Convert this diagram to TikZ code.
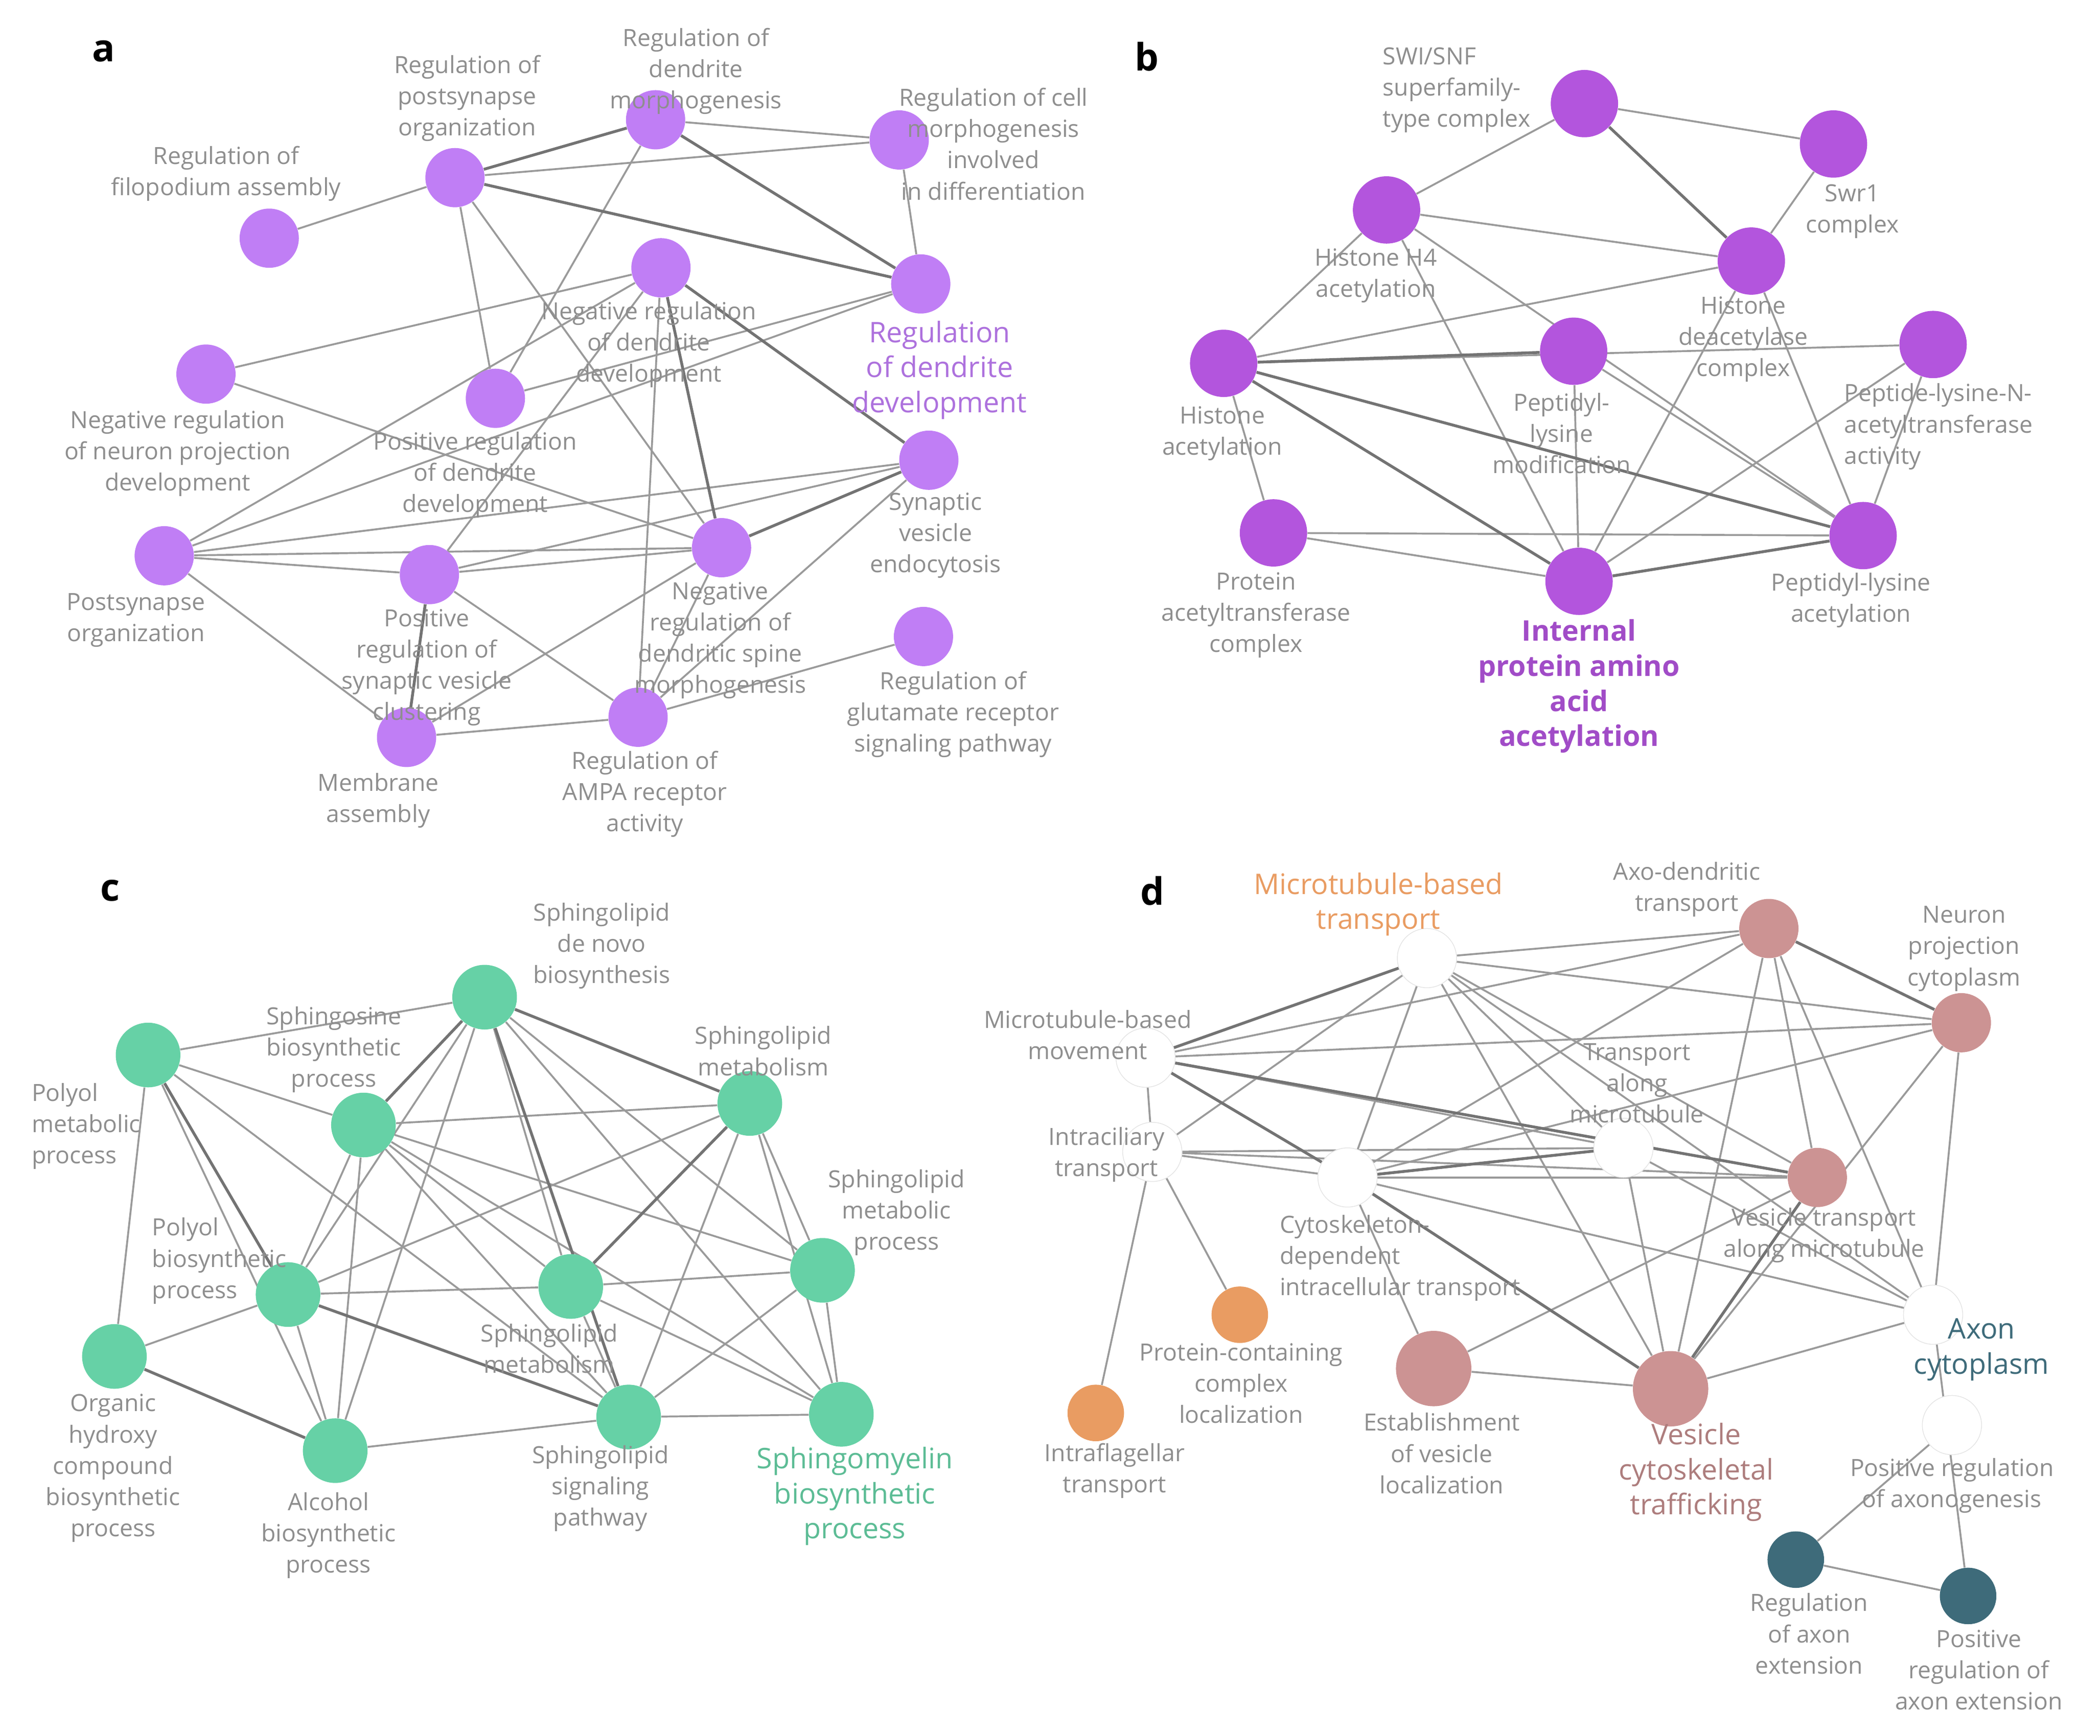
\documentclass[tikz,border=0pt]{standalone}
\usepackage{fontspec}
\setmainfont{Open Sans}
\usetikzlibrary{backgrounds}
\definecolor{ca}{HTML}{C07EF5}
\definecolor{cb}{HTML}{B355DD}
\definecolor{cc}{HTML}{66D1A6}
\definecolor{cd}{HTML}{CC9393}
\definecolor{co}{HTML}{E99C62}
\definecolor{ct}{HTML}{3E6B7A}
\definecolor{lg}{HTML}{8E8E8E}
\definecolor{eg}{HTML}{9A9A9A}
\tikzset{
 nd/.style={circle,inner sep=0pt,minimum size=1.1cm},
 na/.style={nd,fill=ca},
 nb/.style={nd,fill=cb,minimum size=1.25cm},
 nc/.style={nd,fill=cc,minimum size=1.2cm},
 npk/.style={nd,fill=cd},
 nw/.style={nd,fill=white,draw=black!10,line width=0.4pt},
 nor/.style={nd,fill=co,minimum size=1.05cm},
 nt/.style={nd,fill=ct,minimum size=1.05cm},
 lab/.style={align=center,text=lg,font=\fontsize{12.5}{16.5}\selectfont,inner sep=0pt},
 big/.style={align=center,font=\fontsize{15}{18.5}\selectfont,inner sep=0pt},
 e/.style={draw=eg,line width=1pt},
 E/.style={draw=black!55,line width=1.5pt},
 pl/.style={font=\bfseries\fontsize{20}{20}\selectfont,inner sep=0pt}
}
\begin{document}
\begin{tikzpicture}[x=0.025cm,y=-0.025cm]
\useasboundingbox (0,0) rectangle (1560,1290);
\node[pl] (pa) at (77,38) {a};
\node[pl] (pb) at (852,42) {b};
\node[pl] (pc) at (82,662) {c};
\node[pl] (pd) at (856,662) {d};
% ---- panel a
\node[na] (a1) at (200,177) {};
\node[na] (a2) at (338,132) {};
\node[na] (a3) at (487,89) {};
\node[na] (a4) at (668,104) {};
\node[na] (a5) at (684,211) {};
\node[na] (a6) at (491,199) {};
\node[na] (a7) at (153,278) {};
\node[na] (a8) at (368,296) {};
\node[na] (a9) at (690,342) {};
\node[na] (a10) at (122,413) {};
\node[na] (a11) at (319,427) {};
\node[na] (a12) at (536,407) {};
\node[na] (a13) at (686,473) {};
\node[na] (a14) at (302,548) {};
\node[na] (a15) at (474,533) {};
\begin{scope}[on background layer]
\foreach \u/\v in {a1/a2,a2/a4,a2/a8,a2/a12,a3/a4,a3/a8,a4/a5,a6/a7,a6/a11,a6/a15,a6/a10,a5/a8,a5/a10,a7/a12,a9/a10,a9/a11,a9/a15,a12/a14,a10/a11,a10/a12,a10/a14,a11/a12,a11/a15,a12/a15,a14/a15,a15/a13}
  \draw[e] (\u) -- (\v);
\foreach \u/\v in {a2/a3,a2/a5,a3/a5,a6/a9,a6/a12,a9/a12,a11/a14}
  \draw[E] (\u) -- (\v);
\end{scope}
\node[lab] (la1) at (168,129) {Regulation of\\filopodium assembly};
\node[lab] (la2) at (347,73) {Regulation of\\postsynapse\\organization};
\node[lab] (la3) at (517,53) {Regulation of\\dendrite\\morphogenesis};
\node[lab] (la4) at (738,107) {Regulation of cell\\morphogenesis\\involved\\in differentiation};
\node[big,text=ca!90!black] (la5) at (698,275) {Regulation\\of dendrite\\development};
\node[lab] (la6) at (482,256) {Negative regulation\\of dendrite\\development};
\node[lab] (la7) at (132,337) {Negative regulation\\of neuron projection\\development};
\node[lab] (la8) at (353,353) {Positive regulation\\of dendrite\\development};
\node[lab] (la9) at (695,398) {Synaptic\\vesicle\\endocytosis};
\node[lab] (la10) at (101,461) {Postsynapse\\organization};
\node[lab] (la11) at (317,496) {Positive\\regulation of\\synaptic vesicle\\clustering};
\node[lab] (la12) at (535,476) {Negative\\regulation of\\dendritic spine\\morphogenesis};
\node[lab] (la13) at (708,531) {Regulation of\\glutamate receptor\\signaling pathway};
\node[lab] (la14) at (281,595) {Membrane\\assembly};
\node[lab] (la15) at (479,590) {Regulation of\\AMPA receptor\\activity};
% ---- panel b
\node[nb] (b1) at (1177,77) {};
\node[nb] (b2) at (1362,107) {};
\node[nb] (b3) at (1030,156) {};
\node[nb] (b4) at (1301,194) {};
\node[nb] (b5) at (909,270) {};
\node[nb] (b6) at (1169,261) {};
\node[nb] (b7) at (1436,256) {};
\node[nb] (b8) at (946,396) {};
\node[nb] (b9) at (1173,432) {};
\node[nb] (b10) at (1384,398) {};
\begin{scope}[on background layer]
\foreach \u/\v in {b1/b2,b1/b3,b2/b4,b3/b4,b3/b5,b3/b9,b3/b10,b4/b5,b4/b9,b4/b10,b5/b7,b5/b8,b6/b9,b6/b10,b8/b9,b8/b10,b9/b7,b7/b10}
  \draw[e] (\u) -- (\v);
\foreach \u/\v in {b1/b4,b5/b6,b5/b9,b5/b10,b9/b10}
  \draw[E] (\u) -- (\v);
\end{scope}
\node[lab,align=left] (lb1) at (1082,67) {SWI/SNF\\superfamily-\\type complex};
\node[lab] (lb2) at (1376,157) {Swr1\\complex};
\node[lab] (lb3) at (1022,205) {Histone H4\\acetylation};
\node[lab] (lb4) at (1295,252) {Histone\\deacetylase\\complex};
\node[lab] (lb5) at (908,322) {Histone\\acetylation};
\node[lab] (lb6) at (1160,322) {Peptidyl-\\lysine\\modification};
\node[lab,align=left] (lb7) at (1440,317) {Peptide-lysine-N-\\acetyltransferase\\activity};
\node[lab] (lb8) at (933,457) {Protein\\acetyltransferase\\complex};
\node[big,font=\bfseries\fontsize{15}{18.5}\selectfont,text=cb!90!black] (lb9) at (1173,510) {Internal\\protein amino\\acid\\acetylation};
\node[lab] (lb10) at (1375,446) {Peptidyl-lysine\\acetylation};
% ---- panel c
\node[nc] (c1) at (110,784) {};
\node[nc] (c2) at (360,741) {};
\node[nc] (c3) at (270,836) {};
\node[nc] (c4) at (557,820) {};
\node[nc] (c5) at (611,944) {};
\node[nc] (c6) at (214,962) {};
\node[nc] (c7) at (424,956) {};
\node[nc] (c8) at (85,1008) {};
\node[nc] (c9) at (249,1078) {};
\node[nc] (c10) at (467,1053) {};
\node[nc] (c11) at (625,1051) {};
\begin{scope}[on background layer]
\foreach \u/\v in {c1/c2,c1/c3,c1/c8,c1/c10,c1/c9,c2/c6,c2/c9,c2/c7,c2/c11,c2/c5,c3/c4,c3/c6,c3/c9,c3/c7,c3/c10,c3/c11,c3/c5,c4/c6,c4/c10,c4/c5,c6/c7,c6/c9,c6/c8,c7/c5,c7/c10,c7/c11,c9/c10,c10/c11,c10/c5,c5/c11,c4/c11}
  \draw[e] (\u) -- (\v);
\foreach \u/\v in {c1/c6,c2/c10,c2/c4,c4/c7,c6/c10,c8/c9,c2/c3}
  \draw[E] (\u) -- (\v);
\end{scope}
\node[lab,align=left] (lc1) at (64,837) {Polyol\\metabolic\\process};
\node[lab] (lc2) at (447,703) {Sphingolipid\\de novo\\biosynthesis};
\node[lab] (lc3) at (248,780) {Sphingosine\\biosynthetic\\process};
\node[lab] (lc4) at (567,781) {Sphingolipid\\metabolism};
\node[lab] (lc5) at (666,901) {Sphingolipid\\metabolic\\process};
\node[lab,align=left] (lc6) at (163,937) {Polyol\\biosynthetic\\process};
\node[lab] (lc7) at (408,1002) {Sphingolipid\\metabolism};
\node[lab] (lc8) at (84,1091) {Organic\\hydroxy\\compound\\biosynthetic\\process};
\node[lab] (lc9) at (244,1141) {Alcohol\\biosynthetic\\process};
\node[lab] (lc10) at (446,1106) {Sphingolipid\\signaling\\pathway};
\node[big,text=cc!90!black] (lc11) at (635,1112) {Sphingomyelin\\biosynthetic\\process};
% ---- panel d
\node[nw] (d1) at (1060,712) {};
\node[npk] (d2) at (1314,690) {};
\node[npk] (d3) at (1457,760) {};
\node[nw] (d4) at (851,786) {};
\node[nw] (d5) at (1206,853) {};
\node[nw] (d6) at (856,856) {};
\node[nw] (d7) at (1001,875) {};
\node[npk] (d8) at (1350,875) {};
\node[nw] (d9) at (1436,977) {};
\node[nor] (d10) at (921,977) {};
\node[nor] (d11) at (814,1050) {};
\node[npk,minimum size=1.4cm] (d12) at (1065,1017) {};
\node[npk,minimum size=1.4cm] (d13) at (1241,1032) {};
\node[nw] (d14) at (1450,1059) {};
\node[nt] (d15) at (1334,1159) {};
\node[nt] (d16) at (1462,1186) {};
\begin{scope}[on background layer]
\foreach \u/\v in {d1/d2,d1/d3,d1/d6,d1/d7,d1/d5,d1/d8,d1/d9,d1/d13,d2/d4,d2/d7,d2/d13,d2/d9,d2/d8,d4/d6,d4/d5,d4/d3,d6/d7,d6/d5,d6/d8,d6/d10,d6/d11,d7/d8,d7/d9,d7/d12,d7/d3,d5/d13,d5/d9,d3/d13,d3/d9,d12/d8,d12/d13,d13/d9,d9/d16,d14/d15,d15/d16}
  \draw[e] (\u) -- (\v);
\foreach \u/\v in {d1/d4,d2/d3,d4/d7,d4/d8,d7/d5,d7/d13,d13/d8}
  \draw[E] (\u) -- (\v);
\end{scope}
\node[big,text=co] (ld1) at (1024,672) {Microtubule-based\\transport};
\node[lab] (ld2) at (1253,661) {Axo-dendritic\\transport};
\node[lab] (ld3) at (1459,705) {Neuron\\projection\\cytoplasm};
\node[lab] (ld4) at (808,769) {Microtubule-based\\movement};
\node[lab] (ld5) at (1216,805) {Transport\\along\\microtubule};
\node[lab] (ld6) at (822,858) {Intraciliary\\transport};
\node[lab,align=left] (ld7) at (1040,935) {Cytoskeleton-\\dependent\\intracellular transport};
\node[lab] (ld8) at (1355,918) {Vesicle transport\\along microtubule};
\node[big,text=ct] (ld9) at (1472,1003) {Axon\\cytoplasm};
\node[lab] (ld10) at (922,1028) {Protein-containing\\complex\\localization};
\node[lab] (ld11) at (828,1093) {Intraflagellar\\transport};
\node[lab] (ld12) at (1071,1080) {Establishment\\of vesicle\\localization};
\node[big,text=cd!85!black] (ld13) at (1260,1094) {Vesicle\\cytoskeletal\\trafficking};
\node[lab] (ld14) at (1450,1104) {Positive regulation\\of axonogenesis};
\node[lab] (ld15) at (1344,1214) {Regulation\\of axon\\extension};
\node[lab] (ld16) at (1470,1241) {Positive\\regulation of\\axon extension};
\end{tikzpicture}
\end{document}
